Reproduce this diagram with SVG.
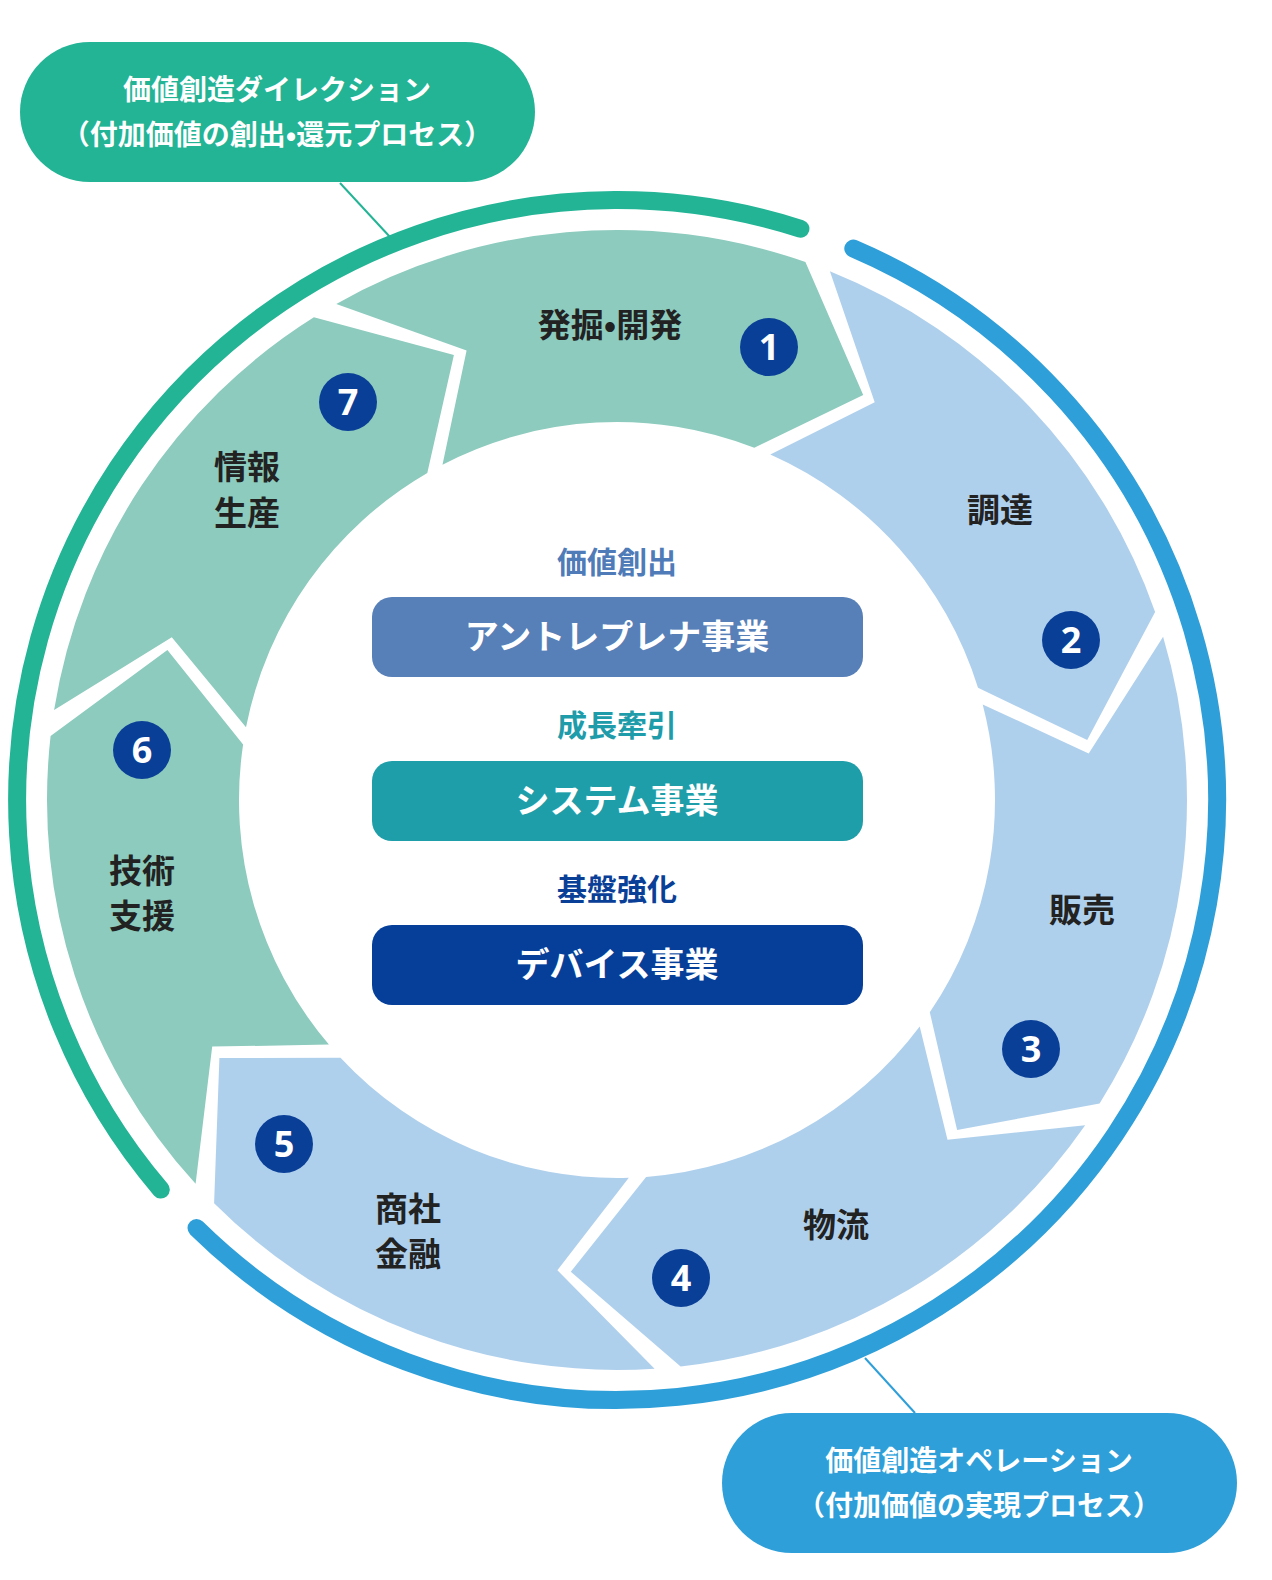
<svg xmlns="http://www.w3.org/2000/svg" width="1272" height="1580" viewBox="0 0 1272 1580">
<style>
text{font-family:"Noto Sans CJK JP","Noto Sans",sans-serif;font-weight:700;text-anchor:middle}
.g{fill:#8ccbbd}.b{fill:#afd0ec}
.lbl{font-size:33px;fill:#222}
.num{fill:#0a3f98}
.nt{font-size:36px;fill:#fff;font-family:"Open Sans","Noto Sans",sans-serif}
.bar{font-size:34px;fill:#fff}
.cap{font-size:30px}
.pill{font-size:28px;fill:#fff;font-weight:700}
</style>
<rect width="1272" height="1580" fill="#fff"/>
<g id="connectors">
<path d="M160.8,1189.6 A600,600 0 0 1 800.4,228.7" fill="none" stroke="#22b495" stroke-width="18" stroke-linecap="round"/>
<path d="M853.3,248.5 A600,600 0 1 1 196.5,1228" fill="none" stroke="#2e9fd9" stroke-width="18" stroke-linecap="round"/>
<line x1="340" y1="183" x2="390" y2="237" stroke="#22b495" stroke-width="2"/>
<line x1="865" y1="1358" x2="915" y2="1413" stroke="#2e9fd9" stroke-width="2"/>
</g>
<g id="seg1"><path class="g" d="M336.3,303.9 A570,570 0 0 1 805.4,262 L863.2,395 L754.3,447.8 A378,378 0 0 0 442.5,464.7 L466.6,350.5 Z"/>
<text class="lbl" x="610" y="337">発掘•開発</text>
<circle class="num" cx="769" cy="347" r="29"/><text class="nt" x="769" y="360">1</text></g>
<g id="seg2"><path class="b" d="M829.9,271.3 A570,570 0 0 1 1155.1,611.9 L1087.2,740 L978,687.8 A378,378 0 0 0 770.3,454.5 L874.7,402.2 Z"/>
<text class="lbl" x="1000" y="522">調達</text>
<circle class="num" cx="1071" cy="640" r="29"/><text class="nt" x="1071" y="653">2</text></g>
<g id="seg3"><path class="b" d="M1163.1,636.8 A570,570 0 0 1 1099.6,1103.4 L957.1,1130.1 L929.8,1012.3 A378,378 0 0 0 982.7,704.5 L1088.7,753.4 Z"/>
<text class="lbl" x="1082" y="922">販売</text>
<circle class="num" cx="1031" cy="1049" r="29"/><text class="nt" x="1031" y="1062">3</text></g>
<g id="seg4"><path class="b" d="M1085.2,1125.2 A570,570 0 0 1 680.6,1366.5 L570.8,1271.7 L646.1,1176.9 A378,378 0 0 0 919.7,1026.4 L947.5,1139.8 Z"/>
<text class="lbl" x="836" y="1237">物流</text>
<circle class="num" cx="681" cy="1278" r="29"/><text class="nt" x="681" y="1291">4</text></g>
<g id="seg5"><path class="b" d="M654.6,1368.7 A570,570 0 0 1 214.1,1203.2 L219.4,1058 L340.5,1057.7 A378,378 0 0 0 628.8,1177.8 L557.4,1270.3 Z"/>
<text class="lbl" x="408" y="1221">商社</text><text class="lbl" x="408" y="1266">金融</text>
<circle class="num" cx="284" cy="1144" r="29"/><text class="nt" x="284" y="1157">5</text></g>
<g id="seg6"><path class="g" d="M195.6,1183.8 A570,570 0 0 1 50.6,736 L167.4,650 L243.1,744.4 A378,378 0 0 0 328.9,1044.6 L212.2,1046.6 Z"/>
<text class="lbl" x="142" y="883">技術</text><text class="lbl" x="142" y="928">支援</text>
<circle class="num" cx="142" cy="750" r="29"/><text class="nt" x="142" y="763">6</text></g>
<g id="seg7"><path class="g" d="M54.1,710.1 A570,570 0 0 1 313.9,317.3 L453.9,354.9 L427.3,473 A378,378 0 0 0 246,727.3 L171.8,637.3 Z"/>
<text class="lbl" x="247" y="479">情報</text><text class="lbl" x="247" y="525">生産</text>
<circle class="num" cx="348" cy="402" r="29"/><text class="nt" x="348" y="415">7</text></g>
<g id="center">
<text class="cap" x="617" y="573" fill="#4f7bb8">価値創出</text>
<rect x="372" y="597" width="491" height="80" rx="20" fill="#577fb8"/>
<text class="bar" x="617" y="649">アントレプレナ事業</text>
<text class="cap" x="617" y="736" fill="#1f9caa">成長牽引</text>
<rect x="372" y="761" width="491" height="80" rx="20" fill="#1e9ea9"/>
<text class="bar" x="617" y="813">システム事業</text>
<text class="cap" x="617" y="900" fill="#0a3f98">基盤強化</text>
<rect x="372" y="925" width="491" height="80" rx="20" fill="#053f9a"/>
<text class="bar" x="617" y="977">デバイス事業</text>
</g>
<g id="callout-top">
<rect x="20" y="42" width="515" height="140" rx="70" fill="#22b495"/>
<text class="pill" x="277" y="100">価値創造ダイレクション</text>
<text class="pill" x="277" y="145">（付加価値の創出•還元プロセス）</text>
</g>
<g id="callout-bottom">
<rect x="722" y="1413" width="515" height="140" rx="70" fill="#2e9fd9"/>
<text class="pill" x="979" y="1471">価値創造オペレーション</text>
<text class="pill" x="979" y="1516">（付加価値の実現プロセス）</text>
</g>
</svg>
